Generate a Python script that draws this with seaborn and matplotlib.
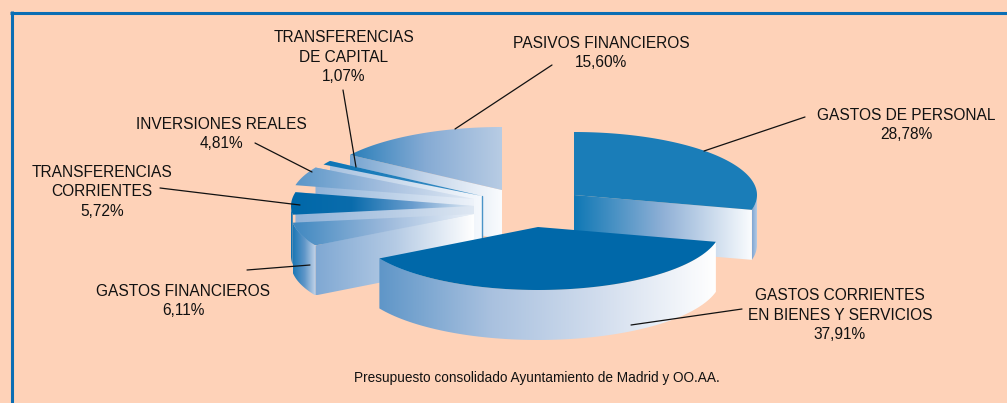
import numpy as np
import matplotlib.pyplot as plt
from matplotlib.patches import Polygon
import seaborn as sns

# data, clockwise from 12 o'clock
categories = ["GASTOS DE PERSONAL", "GASTOS CORRIENTES\nEN BIENES Y SERVICIOS", "GASTOS FINANCIEROS",
              "TRANSFERENCIAS\nCORRIENTES", "INVERSIONES REALES", "TRANSFERENCIAS\nDE CAPITAL",
              "PASIVOS FINANCIEROS"]
values = [28.78, 37.91, 6.11, 5.72, 4.81, 1.07, 15.60]
footer = "Presupuesto consolidado Ayuntamiento de Madrid y OO.AA."

# layout in pixels of the picture
centers = [(574, 195), (538, 227), (474, 214), (474, 206), (474, 199), (482, 196), (502, 190)]
label_pos = [(906, 125), (840, 315), (183, 301), (102, 192), (221, 134), (344, 57), (601, 53)]
leaders = [((805, 117), (704, 151)), ((742, 309), (631, 325)), ((247, 270), (310, 265)),
           ((160, 188), (300, 205)), ((255, 143), (312, 172)), ((343, 90), (356, 167)),
           ((552, 65), (455, 129))]
RX, RY, DEPTH = 183, 63, 50

BG = "#fed2b8"
FRAME = "#0a6eb4"

sns.set_style("white")
plt.rcParams['font.family'] = ['Liberation Sans', 'DejaVu Sans']

fig = plt.figure(figsize=(10.07, 4.03), dpi=100, facecolor=BG)
ax = fig.add_axes([0, 0, 1, 1])
ax.set_xlim(0, 1007)
ax.set_ylim(403, 0)
ax.set_autoscale_on(False)
ax.axis("off")

# slice angles from the values
angles = 90 - np.cumsum([0] + values) * 3.6


def rim(c, a0, a1, n=80):
    t = np.radians(np.linspace(a0, a1, n))
    return np.column_stack([c[0] + RX * np.cos(t), c[1] - RY * np.sin(t)])


def gradient(pts, colors, z):
    # horizontal blend clipped to the face
    pts = np.asarray(pts)
    cmap = sns.blend_palette(colors, as_cmap=True)
    im = ax.imshow(np.linspace(0, 1, 256)[None, :], cmap=cmap, aspect="auto", zorder=z,
                   extent=[pts[:, 0].min(), pts[:, 0].max(), pts[:, 1].max(), pts[:, 1].min()])
    im.set_clip_path(Polygon(pts, closed=True, transform=ax.transData))


def top(i):
    return np.vstack([[centers[i]], rim(centers[i], angles[i], angles[i + 1])])


def outer(i, a0, a1):
    r = rim(centers[i], a0, a1)
    return np.vstack([r, r[::-1] + [0, DEPTH]])


def radial(i, a):
    c = np.array(centers[i], float)
    e = rim(centers[i], a, a, 1)[0]
    return [c, e, e + [0, DEPTH], c + [0, DEPTH]]


# 0 personal, 1 corrientes, 2 financieros, 3 transf. corrientes, 4 inversiones, 5 capital, 6 pasivos
z = 2
gradient(radial(6, angles[6]), ["#76a4d0", "#c3d4e9", "#fafcfe"], z)
gradient(top(6), ["#2a7fba", "#86abd4", "#b8cce4"], z + 1)
z = 4
gradient(radial(5, angles[6]), ["#a9c3e0", "#f6f9fd"], z)
gradient(top(5), ["#0a74b5", "#3f8fc6"], z + 1)
ax.plot([centers[5][0]] * 2, [centers[5][1], centers[5][1] + DEPTH], color="#4a94c8", lw=1, zorder=z + 1)
z = 6
gradient(radial(4, angles[5]), ["#8fb2d8", "#eef3fa"], z)
gradient(top(4), ["#5a96c8", "#a5bfdf", "#e3ebf5"], z + 1)
z = 8
gradient(radial(3, angles[4]), ["#8fb2d8", "#b4cae4", "#dfe8f3"], z)
gradient(outer(3, 180, angles[3] + 360), ["#0d70b0", "#1d78b6"], z)
gradient(top(3), ["#0068a9", "#0a6cac", "#6a9dce", "#e3ebf5"], z + 1)
z = 10
gradient(radial(2, angles[2] + 360), ["#7fa8d3", "#b4cae4", "#ffffff"], z)
gradient(outer(2, angles[3] + 360, angles[2] + 360), ["#1d78b6", "#5f96c8", "#c5d5ea"], z)
gradient(top(2), ["#3f88c0", "#9ab8db", "#eef3fa"], z + 1)
z = 12
gradient(radial(0, angles[1]), ["#0f78b5", "#8fb0d6", "#fafcfe"], z)
gradient(outer(0, angles[1], 0), ["#7fa6d2", "#c0d2e8"], z)
ax.add_patch(Polygon(top(0), closed=True, fc="#1a7db8", ec="none", zorder=z + 1))
z = 14
gradient(outer(1, angles[2], angles[1]), ["#5f96c8", "#a9c1df", "#d3deee", "#ffffff"], z)
ax.add_patch(Polygon(top(1), closed=True, fc="#0068a9", ec="none", zorder=z + 1))

for (p, q) in leaders:
    ax.plot([p[0], q[0]], [p[1], q[1]], color="#111111", lw=0.9, zorder=20)

for name, v, (x, y) in zip(categories, values, label_pos):
    pct = f"{v:.2f}".replace(".", ",") + "%"
    ax.text(x, y, name + "\n" + pct, ha="center", va="center", fontsize=11.2, color="#111111",
            linespacing=1.34, zorder=21)

ax.text(537, 378, footer, ha="center", va="center", fontsize=9.8, color="#111111", zorder=21)

# frame only on the top and left
ax.plot([10, 1007], [12.5, 12.5], color=FRAME, lw=2.2, solid_capstyle="butt", zorder=25)
ax.plot([11.5, 11.5], [11, 403], color=FRAME, lw=2.2, solid_capstyle="butt", zorder=25)

fig.savefig("out.png", dpi=100, facecolor=BG)
